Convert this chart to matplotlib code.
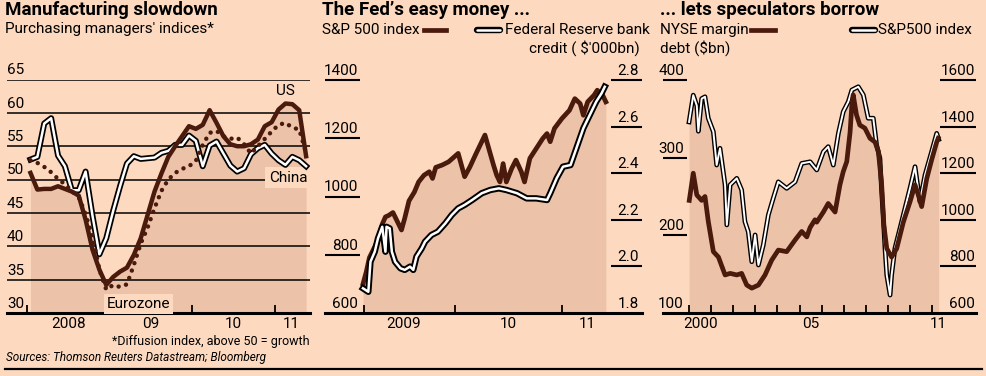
import matplotlib.pyplot as plt
from matplotlib.lines import Line2D
import numpy as np

BG = '#fdd9bf'
SHADE = '#ecc2a9'
DARK = '#4a1a0c'
plt.rcParams['font.family'] = ['Roboto', 'DejaVu Sans']

W, H = 987, 376
FS = 11  # body text size
TS = 13.5  # title size
PT = 72 / 100  # points per pixel at dpi 100

# ---- panel 1: purchasing managers' indices, monthly Jan 2008 - May 2011
us_pmi = [51.0, 48.5, 48.6, 48.6, 49.0, 48.6, 48.2, 47.6, 44.0, 39.5, 36.5, 34.2,
          35.4, 36.2, 36.8, 38.7, 41.2, 44.7, 48.2, 50.9, 53.4, 55.0, 56.5, 58.0,
          57.6, 58.2, 60.4, 58.5, 56.5, 55.3, 55.0, 55.0, 55.3, 56.0, 58.0, 58.6,
          60.5, 61.4, 61.3, 60.4, 53.5]
ez_pmi = [52.9, 52.5, 51.9, 51.1, 50.1, 49.3, 48.3, 47.4, 44.8, 41.5, 36.5, 33.5,
          34.2, 33.9, 34.3, 37.2, 40.4, 42.8, 45.7, 48.3, 50.0, 51.0, 51.6, 52.0,
          52.8, 55.2, 57.0, 57.3, 56.5, 56.1, 56.3, 55.3, 53.9, 55.0, 56.1, 57.2,
          58.2, 58.5, 57.8, 57.5, 54.0]
china_pmi = [53.0, 53.4, 58.4, 59.2, 53.6, 52.0, 48.4, 48.4, 51.2, 44.6, 38.8, 41.2,
             45.3, 49.0, 52.4, 53.5, 53.1, 53.2, 53.3, 54.0, 54.3, 55.2, 55.2, 56.6,
             55.8, 52.0, 55.1, 55.7, 53.9, 52.1, 51.2, 51.7, 53.8, 54.7, 55.2, 53.9,
             52.9, 52.2, 53.4, 52.9, 52.0]
pmi_ticks = [35, 40, 45, 50, 55, 60, 65]

# ---- panel 2: S&P 500 and Fed bank credit
sp_t = [2009.14, 2009.17, 2009.20, 2009.24, 2009.28, 2009.32, 2009.35, 2009.38,
        2009.42, 2009.46, 2009.50, 2009.53, 2009.57, 2009.62, 2009.66, 2009.71,
        2009.76, 2009.79, 2009.82, 2009.88, 2009.94, 2010.03, 2010.06, 2010.09,
        2010.14, 2010.19, 2010.28, 2010.36, 2010.39, 2010.42, 2010.45, 2010.48,
        2010.53, 2010.57, 2010.62, 2010.65, 2010.70, 2010.76, 2010.82, 2010.86,
        2010.89, 2010.93, 2011.00, 2011.07, 2011.12, 2011.17, 2011.20, 2011.24,
        2011.30, 2011.33, 2011.38, 2011.41]
sp_val = [700, 740, 790, 820, 850, 905, 930, 935,
          945, 915, 885, 925, 985, 1015, 1050, 1073,
          1085, 1062, 1100, 1108, 1119, 1148, 1108, 1068,
          1102, 1142, 1211, 1108, 1073, 1050, 1113, 1050,
          1096, 1125, 1085, 1050, 1131, 1165, 1199, 1216,
          1188, 1234, 1268, 1296, 1336, 1319, 1279, 1325,
          1348, 1365, 1348, 1325]
fed_t = [2009.14, 2009.19, 2009.21, 2009.25, 2009.28, 2009.32, 2009.35, 2009.36,
         2009.39, 2009.41, 2009.44, 2009.49, 2009.53, 2009.58, 2009.61, 2009.64,
         2009.69, 2009.72, 2009.78, 2009.84, 2009.91, 2009.97, 2010.03, 2010.09,
         2010.16, 2010.25, 2010.33, 2010.41, 2010.48, 2010.58, 2010.67, 2010.76,
         2010.86, 2010.89, 2010.95, 2011.01, 2011.08, 2011.14, 2011.20, 2011.26,
         2011.32, 2011.37, 2011.40]
fed_val = [1.906, 1.891, 2.02, 2.063, 2.12, 2.17, 2.063, 2.17,
           2.163, 2.063, 2.02, 1.992, 1.985, 1.999, 1.985, 2.042,
           2.078, 2.106, 2.135, 2.149, 2.185, 2.221, 2.249, 2.264,
           2.285, 2.314, 2.328, 2.335, 2.328, 2.314, 2.292, 2.292,
           2.285, 2.314, 2.378, 2.428, 2.435, 2.514, 2.593, 2.65,
           2.707, 2.743, 2.771]

# ---- panel 3: NYSE margin debt and S&P 500
margin_t = [2000.01, 2000.19, 2000.35, 2000.57, 2000.72, 2000.87, 2001.10, 2001.33,
            2001.63, 2001.86, 2002.16, 2002.38, 2002.61, 2002.84, 2003.14, 2003.44,
            2003.74, 2004.04, 2004.42, 2004.80, 2005.10, 2005.33, 2005.48, 2005.70,
            2005.78, 2006.08, 2006.30, 2006.61, 2006.83, 2006.98, 2007.14, 2007.29,
            2007.37, 2007.43, 2007.58, 2007.73, 2007.96, 2008.19, 2008.42, 2008.57,
            2008.72, 2008.82, 2008.95, 2009.17, 2009.40, 2009.70, 2010.00, 2010.23,
            2010.38, 2010.53, 2010.76, 2010.98, 2011.21, 2011.28]
margin_val = [245, 280, 252, 245, 250, 218, 179, 172,
              149, 151, 149, 151, 136, 132, 136, 149,
              168, 181, 179, 194, 205, 198, 210, 220,
              217, 230, 241, 230, 265, 282, 295, 333,
              368, 381, 355, 342, 338, 325, 320, 308,
              265, 213, 183, 172, 183, 217, 243, 265,
              252, 237, 273, 297, 320, 325]
spx_t = [2000.00, 2000.19, 2000.35, 2000.42, 2000.57, 2000.72, 2000.87, 2001.10,
         2001.25, 2001.40, 2001.63, 2001.71, 2001.86, 2002.16, 2002.38, 2002.53,
         2002.68, 2002.84, 2002.99, 2003.14, 2003.36, 2003.59, 2003.81, 2004.04,
         2004.42, 2004.80, 2005.10, 2005.48, 2005.78, 2006.08, 2006.30, 2006.53,
         2006.76, 2006.98, 2007.21, 2007.37, 2007.66, 2007.89, 2008.11, 2008.34,
         2008.49, 2008.64, 2008.72, 2008.82, 2008.87, 2008.95, 2009.10, 2009.17,
         2009.32, 2009.55, 2009.85, 2010.00, 2010.23, 2010.45, 2010.68, 2010.98,
         2011.21, 2011.30]
spx_val = [1420, 1535, 1490, 1380, 1520, 1528, 1436, 1378,
           1235, 1307, 1150, 978, 1150, 1178, 1128, 992,
           949, 820, 935, 806, 892, 1021, 1092, 1163,
           1135, 1163, 1242, 1249, 1214, 1292, 1314, 1235,
           1371, 1464, 1507, 1557, 1571, 1536, 1436, 1436,
           1321, 1264, 1121, 964, 878, 763, 677, 763,
           878, 964, 1078, 1135, 1228, 1078, 1192, 1292,
           1371, 1345]


def px(x, y):
    return x / W, 1 - y / H


def make_axes(x0, x1, y_top, y_bot):
    ax = fig.add_axes([x0 / W, 1 - y_bot / H, (x1 - x0) / W, (y_bot - y_top) / H])
    ax.patch.set_visible(False)
    for s in ['top', 'left', 'right']:
        ax.spines[s].set_visible(False)
    ax.spines['bottom'].set_linewidth(2.2)
    return ax


def make_twin(ax):
    axr = ax.twinx()
    axr.patch.set_visible(False)
    for s in ['top', 'left', 'right', 'bottom']:
        axr.spines[s].set_visible(False)
    return axr


def year_axis(ax, ticks, label_pos, labels):
    ax.set_xticks(ticks)
    ax.set_xticks(label_pos, minor=True)
    ax.set_xticklabels(labels, minor=True)
    ax.tick_params(which='major', direction='in', length=6, width=1.3,
                   labelbottom=False)
    ax.tick_params(which='minor', length=0, labelsize=FS, pad=3)


def value_axis(ax, side, values, fmt, tick_px, x_text):
    # the short rules under each value are the axis ticks, drawn inwards
    ax.set_yticks(values[1:])
    ax.tick_params(axis='y', left=(side == 'left'), right=(side == 'right'),
                   labelleft=False, labelright=False, direction='in',
                   length=tick_px * PT, width=1.5, color='black')
    tr = ax.get_yaxis_transform()
    for v in values:
        ax.annotate(fmt.format(v), xy=(x_text, v), xycoords=tr, xytext=(0, 1.5),
                    textcoords='offset points', ha='right', va='bottom',
                    fontsize=FS, annotation_clip=False)


def outlined(ax, x, y, outer, inner, z=4):
    ax.plot(x, y, color='black', lw=outer, zorder=z, solid_joinstyle='round')
    ax.plot(x, y, color='white', lw=inner, zorder=z + 0.1, solid_joinstyle='round')


def legend_line(x0, x1, y, white=False):
    t = fig.transFigure
    if white:
        fig.add_artist(Line2D([x0 / W, x1 / W], [1 - y / H] * 2, color='black',
                              lw=4.6, solid_capstyle='round', transform=t))
        fig.add_artist(Line2D([x0 / W, x1 / W], [1 - y / H] * 2, color='white',
                              lw=1.8, solid_capstyle='round', transform=t))
    else:
        fig.add_artist(Line2D([x0 / W, x1 / W], [1 - y / H] * 2, color=DARK,
                              lw=3.4, transform=t))


fig = plt.figure(figsize=(W / 100, H / 100), dpi=100)
fig.patch.set_facecolor(BG)

# ================= panel 1
months = 2008 + (np.arange(len(us_pmi)) + 0.5) / 12
ax1 = make_axes(7, 310, 79.5, 313)
ax1.tick_params(left=False, labelleft=False)
ax1.set_xlim(2007.758, 2011.422)
ax1.set_ylim(30, 65)
ax1.fill_between(months, 30, us_pmi, color=SHADE, lw=0, zorder=1)
for v in pmi_ticks:
    ax1.axhline(v, color='black', lw=1.1, zorder=2)
for v in [30] + pmi_ticks:
    ax1.annotate(str(v), xy=(0, v), xycoords=ax1.get_yaxis_transform(),
                 xytext=(0, 1.5), textcoords='offset points', ha='left',
                 va='bottom', fontsize=FS)
outlined(ax1, months, china_pmi, 4.3, 1.8)
ax1.plot(months, ez_pmi, color=DARK, lw=3.2, linestyle=(0, (0.01, 1.75)),
         dash_capstyle='round', zorder=5)
ax1.plot(months, us_pmi, color=DARK, lw=3.2, zorder=6, solid_joinstyle='round')
year_axis(ax1, [2008, 2009, 2010, 2011], [2008.5, 2009.5, 2010.5, 2011.2],
          ['2008', '09', '10', '11'])
ax1.text(2011.12, 62.2, 'US', ha='center', va='bottom', fontsize=FS, zorder=7)
ax1.text(2011.16, 50.3, 'China', ha='center', va='center', fontsize=FS,
         zorder=3, bbox=dict(boxstyle='square,pad=0.25', fc=BG, ec='none'))
ax1.text(2009.35, 31.4, 'Eurozone', ha='center', va='center', fontsize=FS,
         zorder=3, bbox=dict(boxstyle='square,pad=0.2', fc=BG, ec='none'))

fig.text(*px(5, 10), 'Manufacturing slowdown', fontsize=TS, fontweight='bold',
         va='center')
fig.text(*px(5, 29), "Purchasing managers' indices*", fontsize=FS, va='center')
fig.text(*px(310, 341), '*Diffusion index, above 50 = growth', fontsize=9,
         ha='right', va='center')
fig.text(*px(6, 357), 'Sources: Thomson Reuters Datastream; Bloomberg',
         fontsize=8.5, style='italic', va='center')

# ================= panel 2
ax2 = make_axes(325, 642, 80, 313)
ax2.set_xlim(2008.785, 2011.748)
ax2.set_ylim(600, 1400)
ax2r = make_twin(ax2)
ax2r.set_ylim(1.8, 2.8)
ax2.fill_between(sp_t, 600, sp_val, color=SHADE, lw=0, zorder=1)
ax2.plot(sp_t, sp_val, color=DARK, lw=3.4, zorder=4, solid_joinstyle='round')
outlined(ax2r, fed_t, fed_val, 4.6, 1.8)
year_axis(ax2, [2009.15, 2010, 2011], [2009.52, 2010.5, 2011.24],
          ['2009', '10', '11'])
value_axis(ax2, 'left', [600, 800, 1000, 1200, 1400], '{}', 35, 0.104)
value_axis(ax2r, 'right', [1.8, 2.0, 2.2, 2.4, 2.6, 2.8], '{:.1f}', 31, 0.991)

fig.text(*px(322, 10), 'The Fed\u2019s easy money ...', fontsize=TS,
         fontweight='bold', va='center')
fig.text(*px(322, 30), 'S&P 500 index', fontsize=FS, va='center')
legend_line(424, 446, 30)
legend_line(477, 500, 30, white=True)
fig.text(*px(505, 30), 'Federal Reserve bank', fontsize=FS, va='center')
fig.text(*px(640, 48), "credit ( $'000bn)", fontsize=FS, va='center', ha='right')

# ================= panel 3
ax3 = make_axes(663, 976, 80, 313)
ax3.set_xlim(1998.82, 2012.99)
ax3.set_ylim(100, 400)
ax3r = make_twin(ax3)
ax3r.set_ylim(600, 1600)
ax3.set_zorder(ax3r.get_zorder() + 1)
ax3r.fill_between(spx_t, 600, spx_val, color=SHADE, lw=0, zorder=1)
outlined(ax3r, spx_t, spx_val, 3.4, 1.4)
ax3.plot(margin_t, margin_val, color=DARK, lw=3.4, zorder=5, solid_joinstyle='round')
year_axis(ax3, list(range(2000, 2012)), [2000.5, 2005.5, 2011.27],
          ['2000', '05', '11'])
value_axis(ax3, 'left', [100, 200, 300, 400], '{}', 24, 0.067)
value_axis(ax3r, 'right', [600, 800, 1000, 1200, 1400, 1600], '{}', 36, 0.997)

fig.text(*px(660, 10), '... lets speculators borrow', fontsize=TS,
         fontweight='bold', va='center')
fig.text(*px(660, 30), 'NYSE margin', fontsize=FS, va='center')
fig.text(*px(660, 48), 'debt ($bn)', fontsize=FS, va='center')
legend_line(751, 775, 30)
legend_line(852, 875, 30, white=True)
fig.text(*px(878, 30), 'S&P500 index', fontsize=FS, va='center')

# bottom rule
fig.add_artist(Line2D([5 / W, 982 / W], [1 - 369 / H] * 2, color='black', lw=1.6,
                      transform=fig.transFigure))

fig.savefig('out.png', dpi=100, facecolor=BG)
